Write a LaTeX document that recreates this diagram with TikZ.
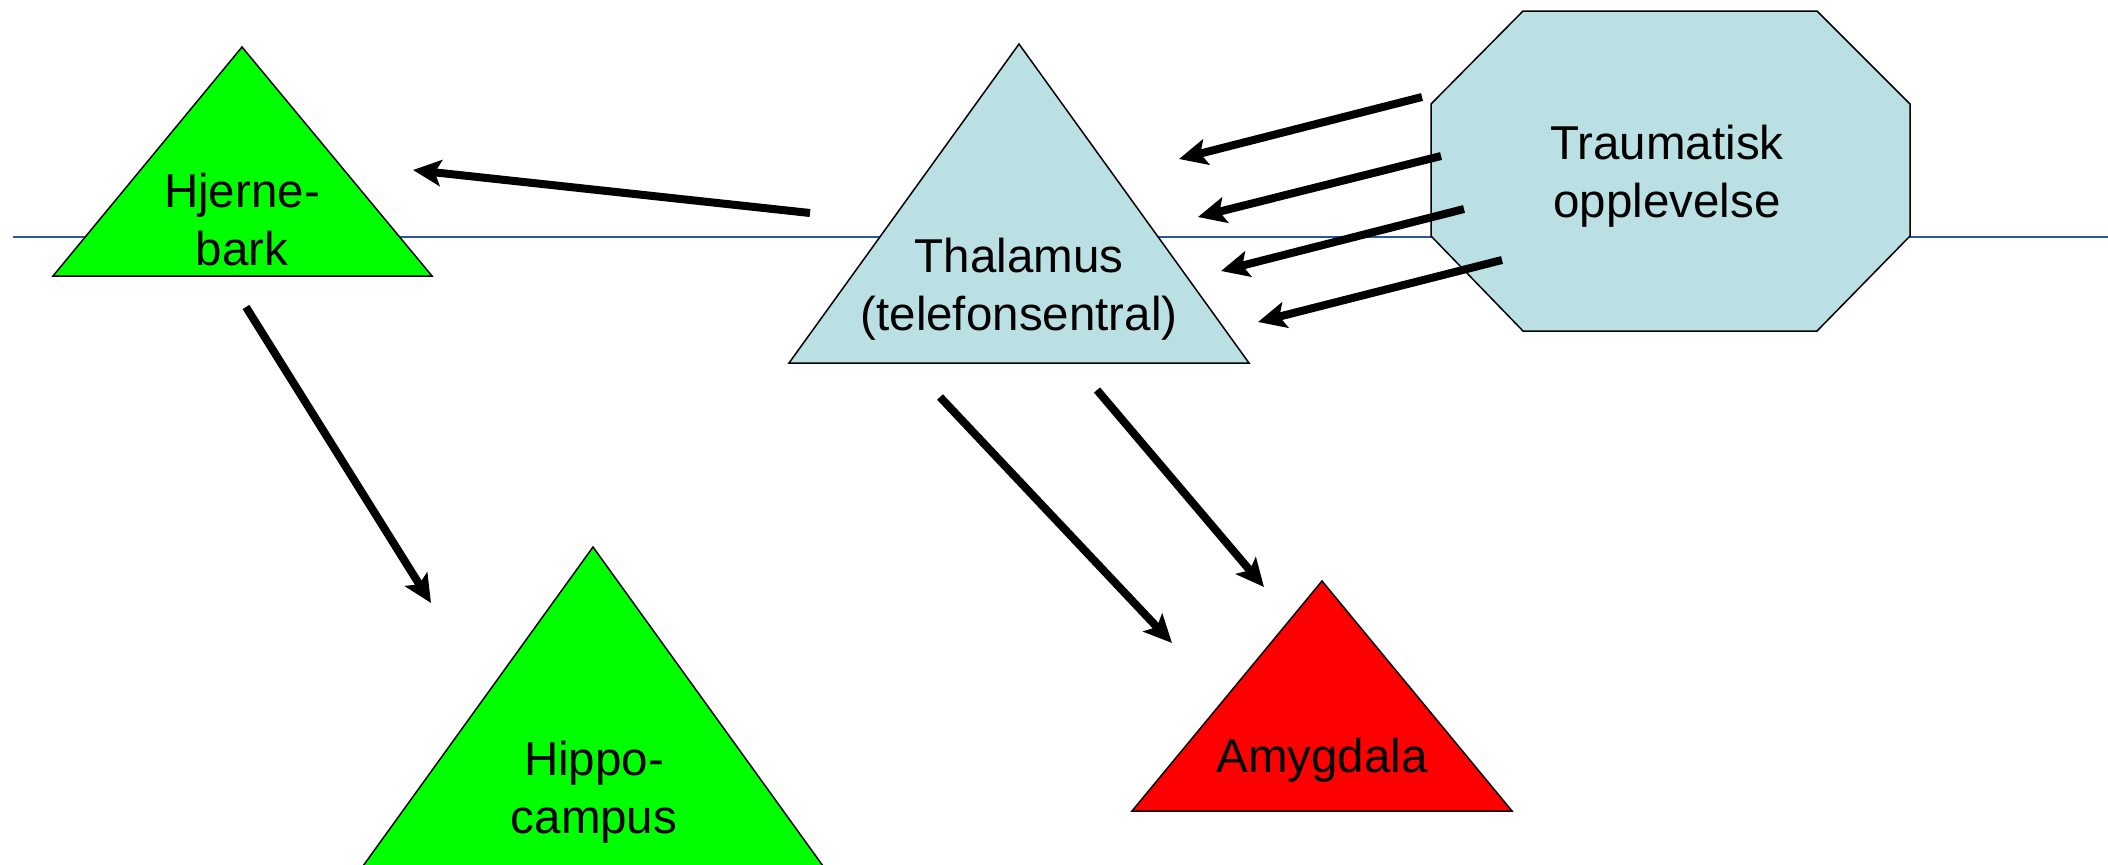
\documentclass[tikz,border=0pt]{standalone}
\usepackage{fontspec}
\setmainfont{Liberation Sans}
\usetikzlibrary{arrows.meta}
\definecolor{paleblue}{RGB}{187,224,227}
\definecolor{brightgreen}{RGB}{0,255,0}
\definecolor{brightred}{RGB}{255,0,0}
\definecolor{ruleblue}{RGB}{41,89,156}
\tikzset{
  region/.style={draw=black,line width=0.75pt,line join=miter},
  areatext/.style={inner sep=0pt,align=center,font=\fontsize{23.75}{29}\selectfont},
  signal/.style={line width=4pt,-{Stealth[length=14pt,width=13pt,inset=3pt]}}
}

\begin{document}
\begin{tikzpicture}[x=0.5pt,y=-0.5pt]
\useasboundingbox (0,0) rectangle (2108,864);
\clip (0,0) rectangle (2108,864);

\draw[ruleblue,line width=1pt] (13,237) -- (2108,237);

\path[region,fill=brightgreen] (242,47) -- (432,276) -- (53,276) -- cycle;
\path[region,fill=paleblue] (1019,44) -- (1249,363) -- (789,363) -- cycle;
\path[region,fill=paleblue] (1523,11) -- (1817,11) -- (1910,104) -- (1910,236)
  -- (1817,331) -- (1523,331) -- (1431,236) -- (1431,104) -- cycle;
\path[region,fill=brightgreen] (593,547) -- (823,866) -- (363,866) -- cycle;
\path[region,fill=brightred] (1322,581) -- (1512,811) -- (1132,811) -- cycle;

\node[areatext] (hjernebark) at (242,220) {Hjerne-\\bark};
\node[areatext] (thalamus) at (1019,289) {Thalamus\\(telefonsentral)};
\node[areatext] (traume) at (1667,176) {Traumatisk\\opplevelse};
\node[areatext] (hippocampus) at (594,792) {Hippo-\\campus};
\node[areatext] (amygdala) at (1322,760) {Amygdala};

\coordinate (thal-w) at (810,213);
\coordinate (hjerne-e) at (413,170);
\coordinate (hjerne-s) at (246,307);
\coordinate (hippo-n) at (431,603);
\coordinate (thal-s1) at (940,397);
\coordinate (amyg-n1) at (1172,643);
\coordinate (thal-s2) at (1097,390);
\coordinate (amyg-n2) at (1264,587);
\coordinate (traume-1) at (1422,97);
\coordinate (traume-2) at (1441,156);
\coordinate (traume-3) at (1464,209);
\coordinate (traume-4) at (1502,260);
\coordinate (thal-e1) at (1179,159);
\coordinate (thal-e2) at (1198,217);
\coordinate (thal-e3) at (1221,271);
\coordinate (thal-e4) at (1258,322);

\draw[signal] (thal-w) -- (hjerne-e);
\draw[signal] (hjerne-s) -- (hippo-n);
\draw[signal] (thal-s1) -- (amyg-n1);
\draw[signal] (thal-s2) -- (amyg-n2);
\foreach \i in {1,...,4}
  \draw[signal] (traume-\i) -- (thal-e\i);

\end{tikzpicture}
\end{document}
